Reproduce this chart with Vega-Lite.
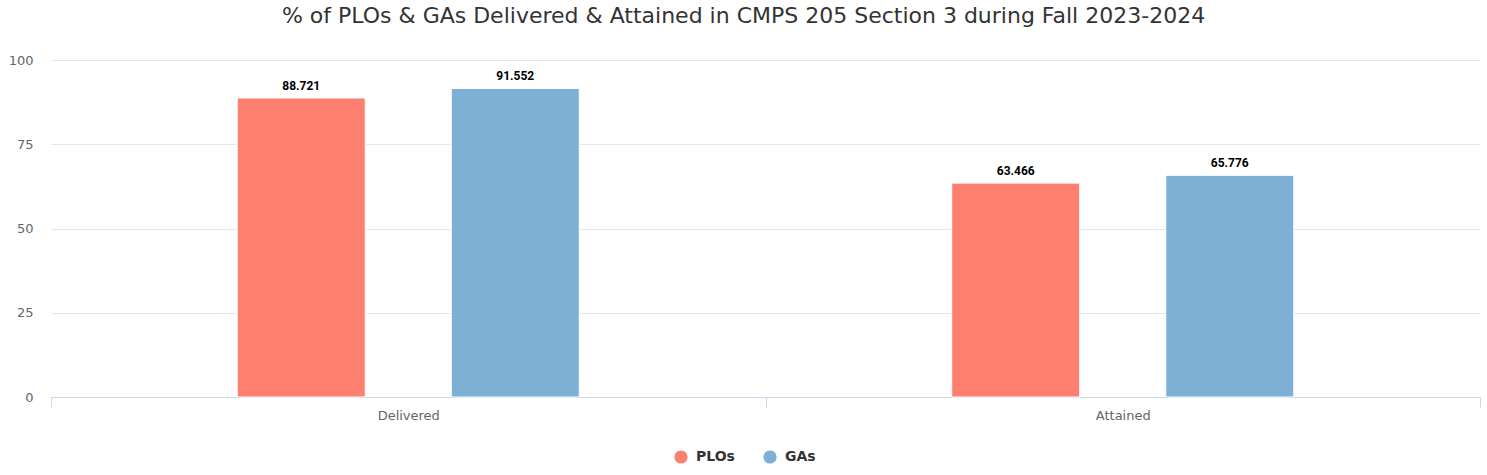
{
  "$schema": "https://vega.github.io/schema/vega-lite/v6.json",
  "width": 1429,
  "height": 337,
  "autosize": {"type": "none"},
  "padding": {"left": 51, "top": 60, "right": 7, "bottom": 78},
  "background": "white",
  "config": {"view": {"stroke": null}},
  "title": {
    "text": "% of PLOs & GAs Delivered & Attained in CMPS 205 Section 3 during Fall 2023-2024",
    "font": "DejaVu Sans",
    "fontSize": 22,
    "fontWeight": "normal",
    "color": "#333333",
    "anchor": "middle",
    "offset": 26,
    "dx": -22
  },
  "data": {
    "values": [
      {"category": "Delivered", "series": "PLOs", "value": 88.721},
      {"category": "Delivered", "series": "GAs", "value": 91.552},
      {"category": "Attained", "series": "PLOs", "value": 63.466},
      {"category": "Attained", "series": "GAs", "value": 65.776}
    ]
  },
  "encoding": {
    "x": {
      "field": "category",
      "type": "nominal",
      "sort": ["Delivered", "Attained"],
      "scale": {"paddingInner": 0, "paddingOuter": 0},
      "axis": {
        "title": null,
        "labelAngle": 0,
        "tickBand": "extent",
        "domainColor": "#ccd6eb",
        "tickColor": "#ccd6eb",
        "tickSize": 10,
        "labelFont": "DejaVu Sans",
        "labelFontSize": 13,
        "labelColor": "#666666",
        "labelPadding": 2,
        "grid": false
      }
    },
    "xOffset": {
      "field": "series",
      "type": "nominal",
      "sort": ["PLOs", "GAs"],
      "scale": {"paddingInner": 0.402, "paddingOuter": 0.87}
    },
    "y": {
      "field": "value",
      "type": "quantitative",
      "scale": {"domain": [0, 100]},
      "axis": {
        "title": null,
        "values": [0, 25, 50, 75, 100],
        "domain": false,
        "ticks": false,
        "gridColor": "#e6e6e6",
        "labelFont": "DejaVu Sans",
        "labelFontSize": 13,
        "labelColor": "#666666",
        "labelPadding": 18
      }
    }
  },
  "layer": [
    {
      "mark": {"type": "bar", "stroke": "white", "strokeWidth": 1},
      "encoding": {
        "color": {
          "field": "series",
          "type": "nominal",
          "sort": ["PLOs", "GAs"],
          "scale": {"domain": ["PLOs", "GAs"], "range": ["#fd7f6f", "#7eb0d5"]},
          "legend": {
            "title": null,
            "orient": "none",
            "legendX": 623,
            "legendY": 390,
            "padding": 0,
            "direction": "horizontal",
            "symbolType": "circle",
            "symbolSize": 175,
            "symbolStrokeWidth": 0,
            "symbolOpacity": 1,
            "labelFont": "DejaVu Sans",
            "labelFontSize": 14,
            "labelFontWeight": "bold",
            "labelColor": "#333333",
            "labelOffset": 8,
            "columnPadding": 28
          }
        }
      }
    },
    {
      "mark": {
        "type": "text",
        "baseline": "bottom",
        "dy": -5,
        "font": "Roboto",
        "fontWeight": "bold",
        "fontSize": 12,
        "color": "#000000"
      },
      "encoding": {
        "text": {"field": "value", "type": "quantitative", "format": ".3f"}
      }
    }
  ]
}
